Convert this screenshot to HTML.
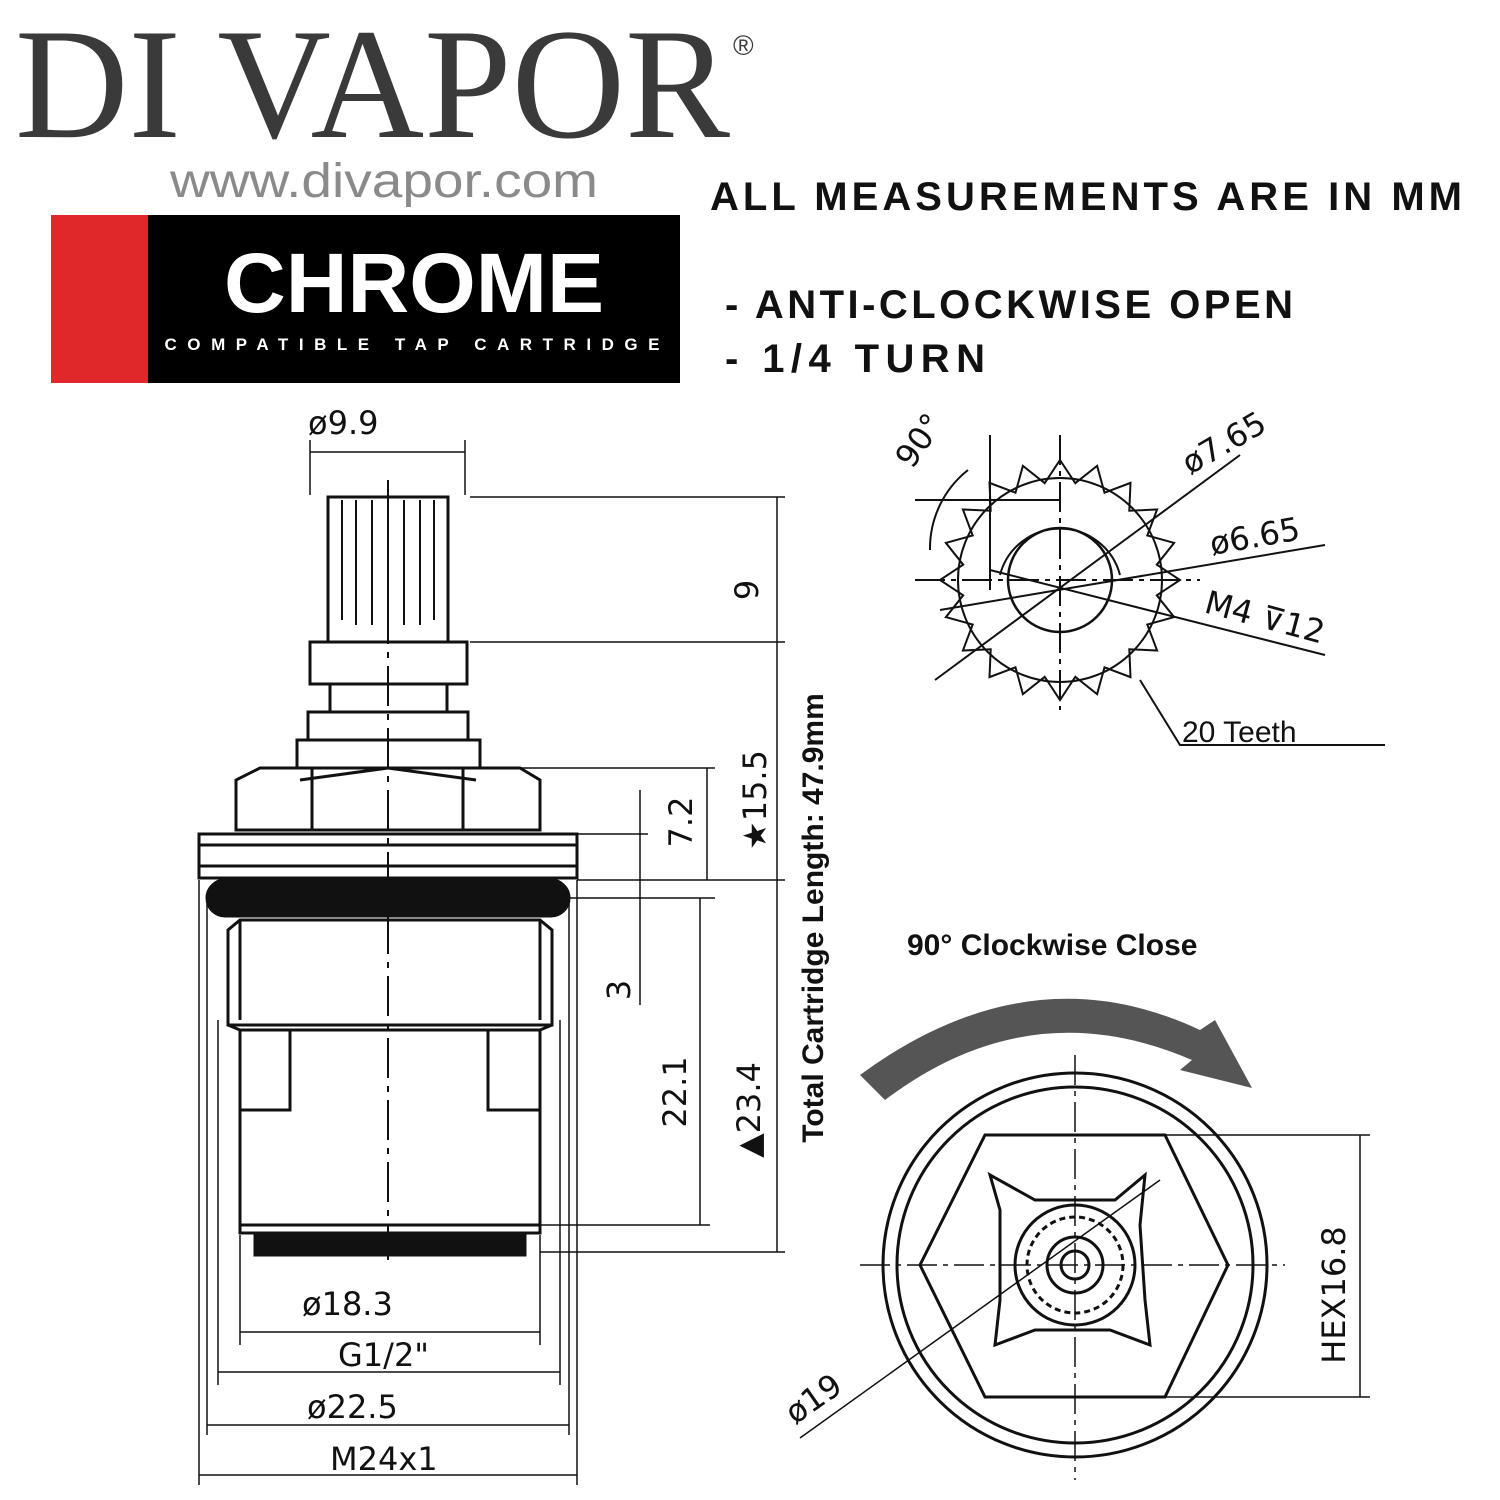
<!DOCTYPE html>
<html><head><meta charset="utf-8"><style>
body{margin:0;background:#fff;}
svg{display:block;}
</style></head><body>
<svg width="1500" height="1500" viewBox="0 0 1500 1500" xmlns="http://www.w3.org/2000/svg" font-family="Liberation Sans, sans-serif">
<rect width="1500" height="1500" fill="#fff"/>
<!-- header -->
<text x="15" y="137" font-family="Liberation Serif, serif" font-size="158" fill="#3a3a3a" textLength="715" lengthAdjust="spacingAndGlyphs">DI VAPOR</text>
<text x="733" y="55" font-size="28" fill="#3a3a3a">®</text>
<text x="170" y="197" font-size="48" fill="#8a8a8a" textLength="428" lengthAdjust="spacingAndGlyphs">www.divapor.com</text>
<rect x="51" y="215" width="98" height="168" fill="#e0282a"/>
<rect x="148" y="215" width="532" height="168" fill="#000"/>
<text x="414" y="312" font-size="84" font-weight="bold" fill="#fff" text-anchor="middle" textLength="380" lengthAdjust="spacingAndGlyphs">CHROME</text>
<text x="412" y="350" font-size="17" font-weight="bold" fill="#fff" text-anchor="middle" textLength="495" lengthAdjust="spacing">COMPATIBLE TAP CARTRIDGE</text>
<g font-weight="bold" fill="#111">
<text x="710" y="210" font-size="40" textLength="752" lengthAdjust="spacing">ALL MEASUREMENTS ARE IN MM</text>
<text x="725" y="318" font-size="40" textLength="568" lengthAdjust="spacing">- ANTI-CLOCKWISE OPEN</text>
<text x="725" y="372" font-size="40" textLength="260" lengthAdjust="spacing">- 1/4 TURN</text>
</g>
<!-- left drawing -->
<g stroke="#111" stroke-width="3" fill="none">
<rect x="328" y="497" width="120" height="145"/>
<g stroke-width="2">
<line x1="342" y1="500" x2="342" y2="620"/><line x1="356" y1="500" x2="356" y2="625"/><line x1="372" y1="500" x2="372" y2="625"/><line x1="388" y1="500" x2="388" y2="625"/><line x1="404" y1="500" x2="404" y2="625"/><line x1="420" y1="500" x2="420" y2="625"/><line x1="434" y1="500" x2="434" y2="620"/>
</g>
<rect x="310" y="642" width="157" height="42"/>
<rect x="330" y="684" width="117" height="28"/>
<rect x="308" y="712" width="160" height="28"/>
<rect x="297" y="740" width="183" height="28"/>
<path d="M236 830 L236 780 L260 768 L520 768 L540 780 L540 830 Z"/>
<line x1="312" y1="768" x2="312" y2="830"/><line x1="463" y1="768" x2="463" y2="830"/>
<path d="M300 780 L388 768 L476 780"/>
<rect x="199" y="834" width="378" height="44"/>
<line x1="199" y1="845" x2="577" y2="845"/><line x1="199" y1="866" x2="577" y2="866"/>
<rect x="207" y="880" width="362" height="36" rx="18" fill="#111"/>
<path d="M228 1025 L228 930 L240 920 L540 920 L552 930 L552 1025 Z"/>
<line x1="240" y1="920" x2="240" y2="1020"/><line x1="540" y1="920" x2="540" y2="1020"/>
<path d="M228 1025 L240 1030 L540 1030 L552 1025"/>
<path d="M240 1030 L240 1225 L540 1225 L540 1030"/>
<path d="M290 1030 L290 1110 L240 1110"/>
<path d="M488 1030 L488 1110 L540 1110"/>
<rect x="240" y="1225" width="300" height="8"/>
<rect x="255" y="1233" width="270" height="22" fill="#111"/>
<line x1="388" y1="480" x2="388" y2="1260" stroke-width="2" stroke-dasharray="40 8 6 8"/>
</g>
<g stroke="#111" stroke-width="1.5" fill="none">
<line x1="310" y1="440" x2="310" y2="495"/><line x1="465" y1="440" x2="465" y2="495"/>
<line x1="310" y1="452" x2="465" y2="452"/>
<line x1="470" y1="497" x2="785" y2="497"/><line x1="470" y1="642" x2="785" y2="642"/>
<line x1="777" y1="497" x2="777" y2="642"/>
<line x1="777" y1="642" x2="777" y2="1252"/>
<line x1="480" y1="768" x2="715" y2="768"/><line x1="707" y1="768" x2="707" y2="880"/>
<line x1="577" y1="834" x2="648" y2="834"/><line x1="640" y1="790" x2="640" y2="1005"/>
<line x1="577" y1="880" x2="785" y2="880"/>
<line x1="552" y1="898" x2="715" y2="898"/><line x1="700" y1="898" x2="700" y2="1225"/>
<line x1="540" y1="1225" x2="710" y2="1225"/>
<line x1="540" y1="1252" x2="785" y2="1252"/>
<line x1="240" y1="1235" x2="240" y2="1345"/><line x1="540" y1="1235" x2="540" y2="1345"/>
<line x1="240" y1="1332" x2="540" y2="1332"/>
<line x1="218" y1="1020" x2="218" y2="1385"/><line x1="560" y1="1020" x2="560" y2="1385"/>
<line x1="218" y1="1372" x2="560" y2="1372"/>
<line x1="207" y1="900" x2="207" y2="1435"/><line x1="569" y1="900" x2="569" y2="1435"/>
<line x1="207" y1="1425" x2="569" y2="1425"/>
<line x1="199" y1="880" x2="199" y2="1485"/><line x1="577" y1="880" x2="577" y2="1485"/>
<line x1="199" y1="1475" x2="577" y2="1475"/>
</g>
<g font-size="32" fill="#111" font-family="DejaVu Sans, sans-serif">
<text x="308" y="434">ø9.9</text>
<text x="302" y="1315">ø18.3</text>
<text x="338" y="1366">G1/2"</text>
<text x="307" y="1418">ø22.5</text>
<text x="330" y="1470">M24x1</text>
<text transform="translate(758 590) rotate(-90)" text-anchor="middle">9</text>
<text transform="translate(692 822) rotate(-90)" text-anchor="middle">7.2</text>
<text transform="translate(766 800) rotate(-90)" text-anchor="middle">★15.5</text>
<text transform="translate(630 990) rotate(-90)" text-anchor="middle">3</text>
<text transform="translate(686 1092) rotate(-90)" text-anchor="middle">22.1</text>
<text transform="translate(760 1110) rotate(-90)" text-anchor="middle">▲23.4</text>
</g>
<text transform="translate(823 918) rotate(-90)" text-anchor="middle" font-size="30" font-weight="bold" fill="#111">Total Cartridge Length: 47.9mm</text>
<!-- top right gear -->
<g stroke="#111" stroke-width="2" fill="none">
<polygon id="gear" points=""/>
<circle cx="1060" cy="580" r="102"/>
<circle cx="1060" cy="580" r="52" stroke-width="2.5"/>
<path d="M1000 575 A62 62 0 0 1 1120 575"/>
<line x1="1060" y1="435" x2="1060" y2="710" stroke-dasharray="30 6 5 6"/>
<line x1="915" y1="580" x2="1200" y2="580" stroke-dasharray="30 6 5 6"/>
<line x1="935" y1="680" x2="1240" y2="455"/>
<line x1="940" y1="610" x2="1325" y2="545"/>
<line x1="990" y1="570" x2="1325" y2="655"/>
<line x1="915" y1="500" x2="1060" y2="500"/><line x1="990" y1="435" x2="990" y2="590"/>
<path d="M968 470 A100 100 0 0 0 930 550"/>
<polyline points="1140,680 1180,745 1385,745"/>
</g>
<script>
(function(){var p=[],cx=1060,cy=580;for(var i=0;i<20;i++){var a=(i*18-90)*Math.PI/180,b=(i*18+9-90)*Math.PI/180;p.push((cx+120*Math.cos(a)).toFixed(1)+','+(cy+120*Math.sin(a)).toFixed(1));p.push((cx+98*Math.cos(b)).toFixed(1)+','+(cy+98*Math.sin(b)).toFixed(1));}document.getElementById('gear').setAttribute('points',p.join(' '));})();
</script>
<g font-size="32" fill="#111" font-family="DejaVu Sans, sans-serif">
<text transform="translate(912 470) rotate(-55)">90°</text>
<text transform="translate(1190 475) rotate(-30)">ø7.65</text>
<text transform="translate(1212 555) rotate(-10)">ø6.65</text>
<text transform="translate(1203 612) rotate(15)">M4 ⊽12</text>
<text x="1182" y="742" font-family="Liberation Sans, sans-serif" font-size="30">20 Teeth</text>
</g>
<!-- bottom right -->
<text x="907" y="955" font-size="30" font-weight="bold" fill="#111">90° Clockwise Close</text>
<path d="M860 1075 Q1030 950 1200 1030 L1215 1020 L1252 1088 L1180 1070 L1192 1060 Q1030 990 885 1100 Z" fill="#555"/>
<g stroke="#111" stroke-width="3" fill="none">
<circle cx="1075" cy="1265" r="192"/>
<circle cx="1075" cy="1265" r="178"/>
<polygon points="985,1135 1165,1135 1228,1265 1165,1397 985,1397 920,1265"/>
<path d="M1000 1210 L990 1175 L1035 1200 L1115 1200 L1145 1175 L1140 1225 L1145 1300 L1150 1345 L1110 1330 L1035 1330 L995 1345 L1000 1300 Z"/>
<circle cx="1075" cy="1265" r="60"/>
<circle cx="1075" cy="1265" r="48" stroke-dasharray="6 4"/>
<circle cx="1075" cy="1265" r="28"/>
<circle cx="1075" cy="1265" r="14"/>
<line x1="1075" y1="1055" x2="1075" y2="1480" stroke-width="1.5" stroke-dasharray="30 6 5 6"/>
<line x1="860" y1="1265" x2="1285" y2="1265" stroke-width="1.5" stroke-dasharray="30 6 5 6"/>
<line x1="800" y1="1438" x2="1160" y2="1180" stroke-width="1.5"/>
<line x1="1165" y1="1135" x2="1370" y2="1135" stroke-width="1.5"/>
<line x1="1165" y1="1397" x2="1370" y2="1397" stroke-width="1.5"/>
<line x1="1360" y1="1135" x2="1360" y2="1397" stroke-width="1.5"/>
</g>
<g font-size="32" fill="#111" font-family="DejaVu Sans, sans-serif">
<text transform="translate(795 1425) rotate(-35)">ø19</text>
<text transform="translate(1345 1295) rotate(-90)" text-anchor="middle">HEX16.8</text>
</g>
</svg>
</body></html>
